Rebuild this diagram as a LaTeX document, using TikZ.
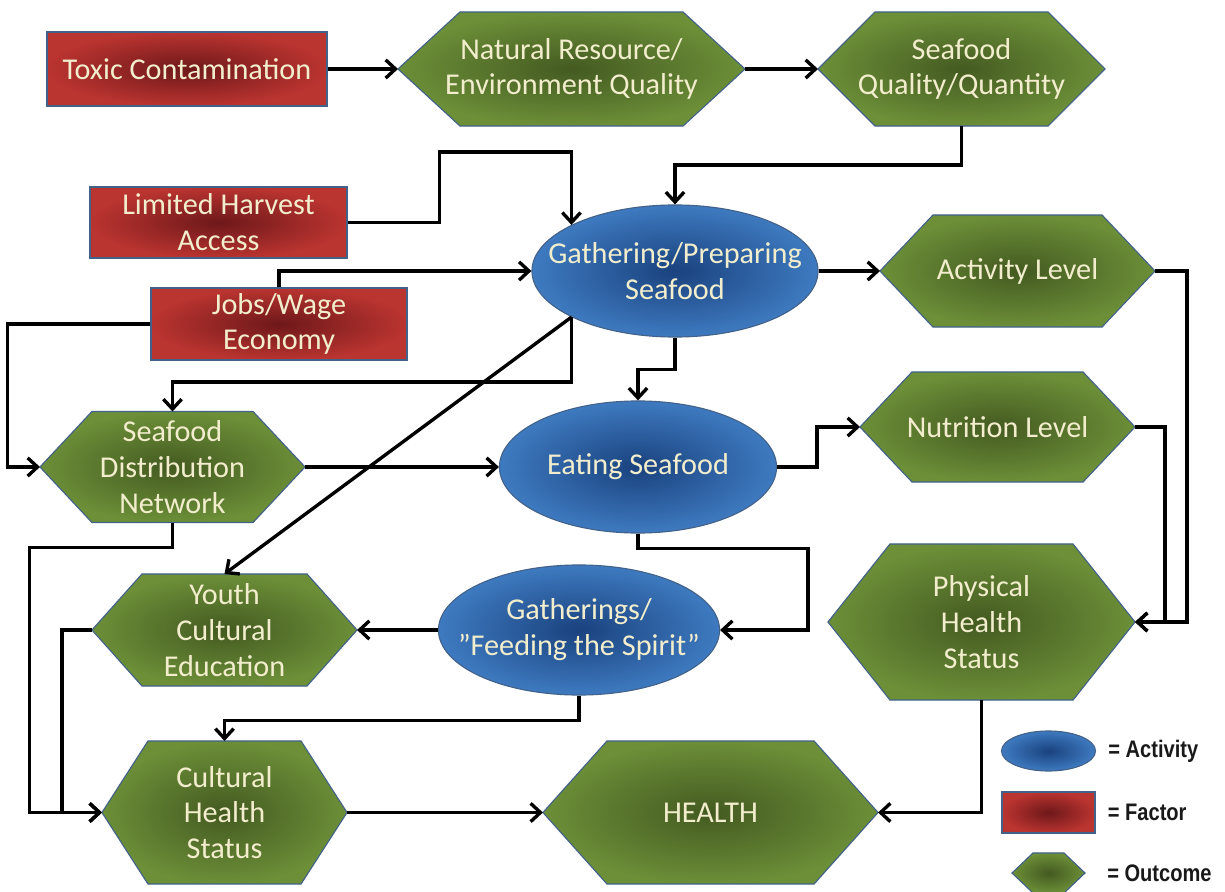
\documentclass[tikz,border=0pt]{standalone}
\usepackage{fontspec}
\setmainfont{Carlito}
\newfontfamily\keyfont[FakeStretch=0.84]{Liberation Sans}
\usetikzlibrary{shapes.geometric, arrows.meta, positioning, backgrounds}

\definecolor{greenout}{RGB}{108,143,56}
\definecolor{greenin}{RGB}{68,90,33}
\definecolor{redout}{RGB}{186,52,48}
\definecolor{redin}{RGB}{110,24,26}
\definecolor{blueout}{RGB}{62,122,192}
\definecolor{bluein}{RGB}{26,66,126}
\definecolor{rimblue}{RGB}{66,98,138}
\definecolor{cream}{RGB}{242,238,205}

\tikzset{
  boxtext/.style = {text=cream, align=center, font=\fontsize{21.5}{25.5}\selectfont},
  factor/.style = {boxtext, rectangle, draw=rimblue, line width=0.8pt, inner sep=2pt,
                   inner color=redin, outer color=redout},
  activity/.style = {boxtext, ellipse, draw=rimblue, line width=0.8pt, inner xsep=-2cm, inner ysep=0pt,
                     inner color=bluein, outer color=blueout},
  outcome/.style = {boxtext, rectangle, inner sep=0pt, outer sep=0pt},
  hexfill/.style = {draw=rimblue, line width=0.8pt, inner color=greenin, outer color=greenout},
  keytext/.style = {font=\keyfont\bfseries\fontsize{17}{19}\selectfont, text=black!90, inner sep=0pt},
  flow/.style = {-{Straight Barb[length=7pt, width=13pt]}, line width=2.4pt}
}

\begin{document}
\begin{tikzpicture}[x=0.025cm, y=-0.025cm]
  \useasboundingbox (0,0) rectangle (1225,892);

  % factors
  \node[factor, minimum width=7cm, minimum height=1.85cm] (tox) at (187,69) {Toxic Contamination};
  \node[factor, minimum width=6.425cm, minimum height=1.775cm] (lha) at (218.5,222.5) {Limited Harvest\\Access};
  \node[factor, minimum width=6.4cm, minimum height=1.8cm] (jw) at (279,324) {Jobs/Wage\\Economy};

  % activities
  \node[activity, minimum width=7.15cm, minimum height=3.3cm] (gps) at (675,271) {Gathering/Preparing\\Seafood};
  \node[activity, minimum width=6.925cm, minimum height=3.3cm] (eat) at (638,467) {Eating Seafood};
  \node[activity, minimum width=7.025cm, minimum height=3.25cm] (gfs) at (579,630) {Gatherings/\\''Feeding the Spirit''};

  % outcomes
  \node[outcome, minimum width=8.675cm, minimum height=2.85cm] (nat) at (571.5,69) {Natural Resource/\\Environment Quality};
  \node[outcome, minimum width=7.175cm, minimum height=2.85cm] (sq) at (961.5,69) {Seafood\\Quality/Quantity};
  \node[outcome, minimum width=6.875cm, minimum height=2.8cm] (al) at (1017.5,271) {Activity Level};
  \node[outcome, minimum width=6.875cm, minimum height=2.75cm] (nl) at (997.5,427) {Nutrition Level};
  \node[outcome, minimum width=6.625cm, minimum height=2.775cm] (sdn) at (172.5,467) {Seafood\\Distribution\\Network};
  \node[outcome, minimum width=6.625cm, minimum height=2.8cm] (yce) at (224.5,630) {Youth\\Cultural\\Education};
  \node[outcome, minimum width=7.675cm, minimum height=3.9cm] (phs) at (981.5,622) {Physical\\Health\\Status};
  \node[outcome, minimum width=6.125cm, minimum height=3.575cm] (chs) at (224.5,812.5) {Cultural\\Health\\Status};
  \node[outcome, minimum width=8.375cm, minimum height=3.575cm] (health) at (710.5,812.5) {HEALTH};

  % key
  \node[activity, minimum width=2.35cm, minimum height=1cm] (key1) at (1048.5,751) {};
  \node[factor, minimum width=2.325cm, minimum height=1.025cm] (key2) at (1048.5,812.5) {};
  \node[outcome, minimum width=1.825cm, minimum height=1cm] (key3) at (1048.5,873) {};
  \node[keytext, right=0.3cm of key1] (keyact) {= Activity};
  \node[keytext, right=0.3cm of key2] (keyfac) {= Factor};
  \node[keytext, right=0.55cm of key3] (keyout) {= Outcome};

  % hexagon bodies behind the outcome texts
  \begin{scope}[on background layer]
    \fill[white] (0,0) rectangle (1225,892);
    \foreach \hx/\cutx in {nat/62, sq/57, al/53, nl/52, sdn/52, yce/50, phs/62, chs/46, health/64, key3/21}
      \shade[hexfill] (\hx.west) -- ([xshift=\cutx*0.025cm]\hx.north west)
        -- ([xshift=-\cutx*0.025cm]\hx.north east) -- (\hx.east)
        -- ([xshift=-\cutx*0.025cm]\hx.south east)
        -- ([xshift=\cutx*0.025cm]\hx.south west) -- cycle;
  \end{scope}

  % paths
  \draw[flow] (tox) -- (nat);
  \draw[flow] (nat) -- (sq);
  \draw[flow] (sq.south) -- ++(0,39) -| (gps.north);
  \draw[flow] (lha.east) -- ++(92,0) |- (gps.156 |- 0,152) -- (gps.156);
  \draw[flow] (jw.north) |- (gps.west);
  \draw[flow] (jw.west) -- ++(-143,0) |- (sdn.west);
  \draw[flow] (gps.204) -- ++(0,65) -| (sdn.north);
  \draw[flow] (gps.204) -- (yce.north);
  \draw[flow] (gps.south) -- ++(0,32) -| (eat.north);
  \draw[flow] (gps.east) -- (al.west);
  \draw[flow] (al.east) -- ++(32,0) |- (phs.east);
  \draw[flow] (nl.east) -- ++(30,0) |- (phs.east);
  \draw[flow] (sdn.east) -- (eat.west);
  \draw[flow] (eat.east) -- ++(40,0) |- (nl.west);
  \draw[flow] (eat.south) -- ++(0,15) -- ++(170,0) |- (gfs.east);
  \draw[flow] (gfs.west) -- (yce.east);
  \draw[flow] (gfs.south) -- ++(0,25) -| (chs.north);
  \draw[flow] (yce.west) -- ++(-30,0) |- (chs.west);
  \draw[flow] (sdn.south) -- ++(0,25) -- ++(-143,0) |- (chs.west);
  \draw[flow] (chs) -- (health);
  \draw[flow] (phs.south) |- (health.east);
\end{tikzpicture}
\end{document}
